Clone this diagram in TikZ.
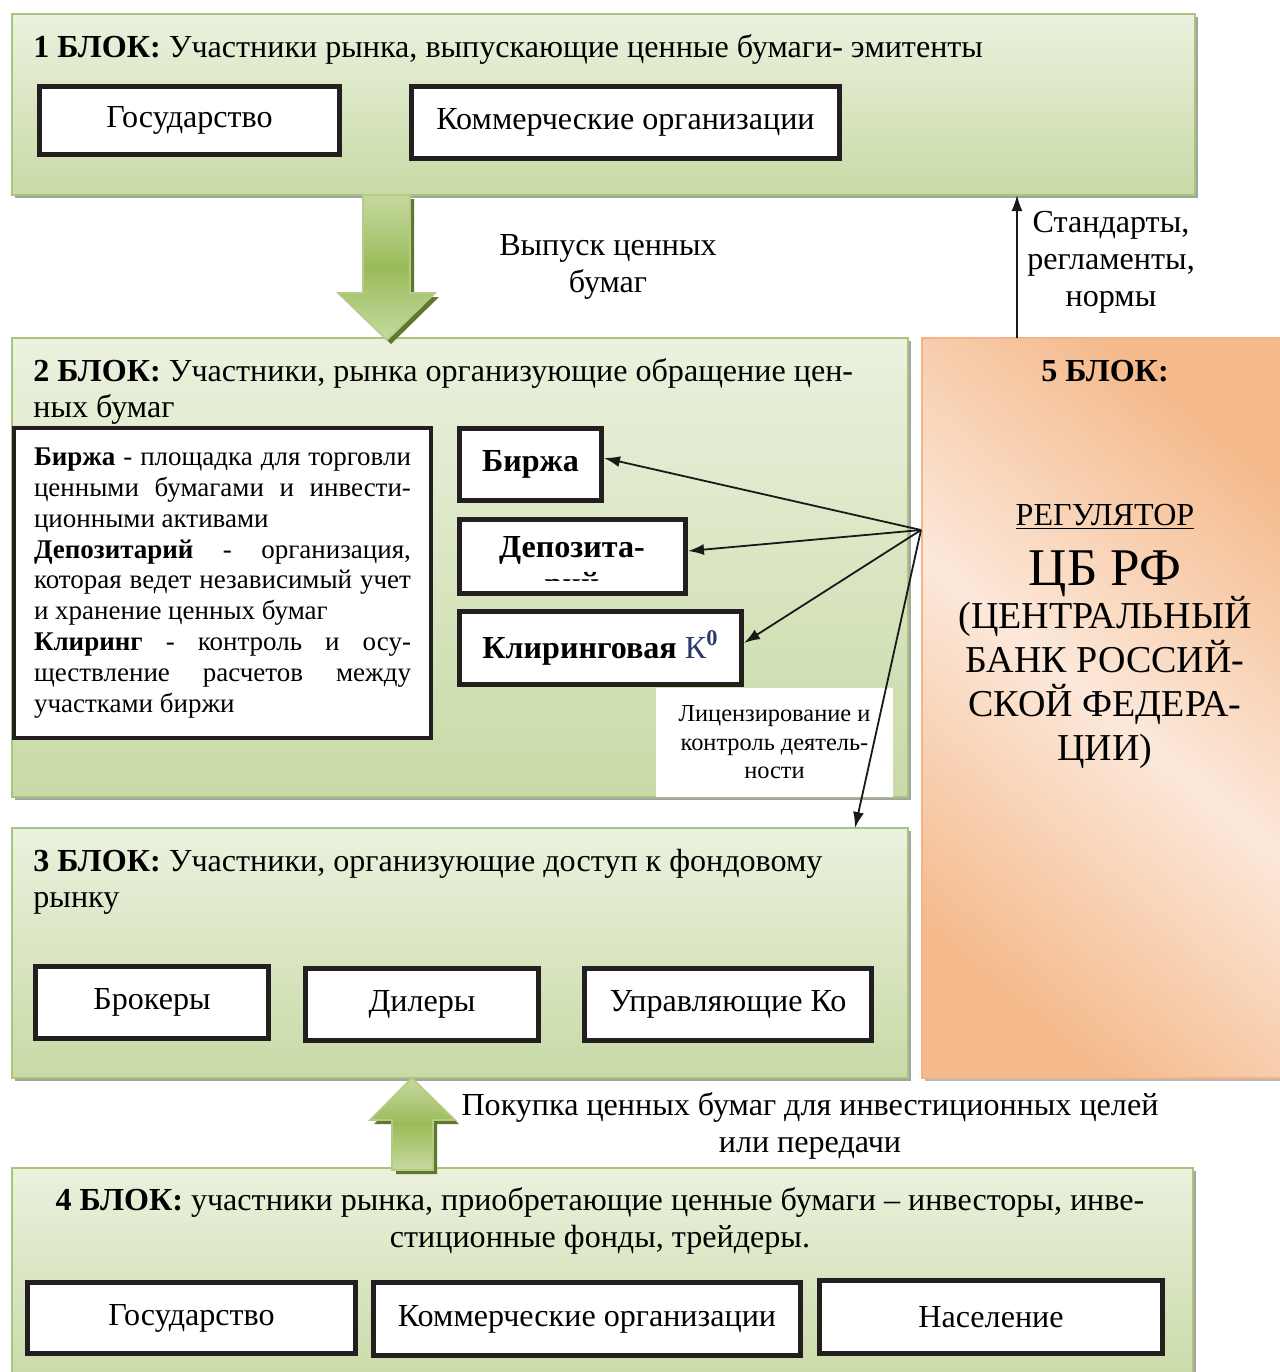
\documentclass[tikz,border=0pt]{standalone}
\usepackage{fontspec}
\setmainfont{Liberation Serif}
\usetikzlibrary{arrows.meta,shadows,calc}

\definecolor{gtop}{HTML}{EBF1DE}
\definecolor{gbot}{HTML}{C8DAA6}
\definecolor{gline}{HTML}{A9C47F}
\definecolor{otop}{HTML}{F4BA8C}
\definecolor{omid}{HTML}{FCE8DA}
\definecolor{oline}{HTML}{F2B48A}
\definecolor{arrA}{HTML}{C6D9A0}
\definecolor{arrB}{HTML}{9BBB59}
\definecolor{arrL}{HTML}{B3CC86}
\definecolor{arrS}{HTML}{60772F}
\definecolor{kcol}{HTML}{2B3A67}
\definecolor{boxline}{HTML}{231F20}

\newcommand\myMainF{\fontsize{16.05}{18.5}\selectfont}
\newcommand\mySmallF{\fontsize{13.5}{15.4}\selectfont}
\newcommand\myLicF{\fontsize{12.2}{14.3}\selectfont}
\newcommand\jline[1]{\hbox to \hsize{#1}}
\newcommand\lline[1]{\hbox to \hsize{#1\hfil}}

\tikzset{
  gblock/.style={draw=gline, line width=0.8pt, top color=gtop, bottom color=gbot,
    inner sep=0pt, outer sep=0pt, anchor=north west,
    drop shadow={shadow xshift=1.6pt, shadow yshift=-1.6pt, fill=black!45, opacity=0.8}},
  oblock/.style={draw=oline, line width=0.8pt, top color=otop, bottom color=otop, middle color=omid,
    shading angle=-40, inner sep=0pt, outer sep=0pt, anchor=north west,
    drop shadow={shadow xshift=1.6pt, shadow yshift=-1.6pt, fill=black!35, opacity=0.8}},
  wbox/.style={draw=boxline, line width=2.5pt, fill=white, inner sep=0pt, font=\myMainF},
  ttl/.style={inner sep=0pt, font=\myMainF},
  thinarrow/.style={draw=black!90, line width=0.9pt, -{Latex[length=8pt,width=5.5pt]}},
  bigarrow/.style={draw=arrL, line width=0.8pt, top color=arrA, bottom color=arrA, middle color=arrB},
  arrshadow/.style={fill=arrS},
}

\begin{document}
\begin{tikzpicture}[x=0.5pt,y=-0.5pt]
\useasboundingbox (0,0) rectangle (1280,1372);
\fill[white] (0,0) rectangle (1280,1372);

% blocks
\node[gblock, minimum width=591.5pt, minimum height=90.5pt] (b1) at (12,14) {};
\node[gblock, minimum width=448pt, minimum height=229.5pt] (b2) at (12,338) {};
\node[gblock, minimum width=448pt, minimum height=125pt] (b3) at (12,828) {};
\node[gblock, minimum width=590.5pt, minimum height=110pt] (b4) at (12,1168) {};
\node[oblock, minimum width=182pt, minimum height=370pt] (b5) at (922,338) {};

% block 1
\node[ttl, anchor=base west] (t1) at (33,57) {\textbf{1 БЛОК:} Участники рынка, выпускающие ценные бумаги- эмитенты};
\node[wbox, minimum width=150pt, minimum height=34pt] (gos1) at (189.5,120.5) {Государство};
\node[wbox, minimum width=214pt, minimum height=36pt] (kom1) at (625.5,122.5) {Коммерческие организации};

% big down arrow
\fill[arrshadow] (367,199) -- (414,199) -- (414,297) -- (439,297) -- (391,344) -- (342,297) -- (367,297) -- cycle;
\path[bigarrow] (363,195) -- (410,195) -- (410,293) -- (435,293) -- (387,340) -- (338,293) -- (363,293) -- cycle;
\node[ttl, align=center] (vyp) at (608,267) {Выпуск ценных\\бумаг};

% standards arrow
\coordinate (stdx) at (1017,0);
\draw[thinarrow] (b5.north -| stdx) -- (b1.south -| stdx);
\node[ttl, align=center] (std) at (1111,262) {Стандарты,\\регламенты,\\нормы};

% block 2
\node[ttl, anchor=base west] (t2a) at (33,381) {\textbf{2 БЛОК:} Участники, рынка организующие обращение цен-};
\node[ttl, anchor=base west] (t2b) at (33,417) {ных бумаг};
\node[wbox, line width=2pt, minimum width=208.5pt, minimum height=155pt, font=\mySmallF] (defs) at (222.5,583)
 {\vbox{\hsize=188.5pt
  \jline{\textbf{Биржа} - площадка для торговли}
  \jline{ценными бумагами и инвести-}
  \lline{ционными активами}
  \jline{\textbf{Депозитарий} - организация,}
  \jline{которая ведет независимый учет}
  \lline{и хранение ценных бумаг}
  \jline{\textbf{Клиринг} - контроль и осу-}
  \jline{ществление расчетов между}
  \lline{участками биржи}}};
\node[wbox, minimum width=71pt, minimum height=36pt, font=\myMainF\bfseries] (birzha) at (530.5,464.5) {Биржа};
\node[wbox, minimum width=113pt, minimum height=37pt] (depo) at (572.5,556.5) {};
\begin{scope}
  \clip (461,521) rectangle (684,580);
  \node[ttl, font=\myMainF\bfseries, align=center] (depot) at (572,569) {Депозита-\\рий};
\end{scope}
\node[wbox, minimum width=141pt, minimum height=36.5pt] (klir) at (600.5,648)
  {\textbf{Клиринговая} \textcolor{kcol}{К\textsuperscript{\textbf{0}}}};
\node[fill=white, inner sep=0pt, minimum width=118.5pt, minimum height=54.5pt, font=\myLicF, align=center] (lic) at (774.5,742.5)
  {Лицензирование и\\контроль деятель-\\ности};

% block 3
\node[ttl, anchor=base west] (t3a) at (33,871) {\textbf{3 БЛОК:} Участники, организующие доступ к фондовому};
\node[ttl, anchor=base west] (t3b) at (33,907) {рынку};
\node[wbox, minimum width=116.5pt, minimum height=36pt] (brok) at (152,1002.5) {Брокеры};
\node[wbox, minimum width=116.5pt, minimum height=36pt] (dil) at (422,1004.5) {Дилеры};
\node[wbox, minimum width=143.5pt, minimum height=36pt] (upr) at (728,1004.5) {Управляющие Ко};

% regulator arrows
\coordinate (src) at (921,530);
\coordinate (b3t) at (855,828);
\draw[thinarrow] (src) -- ([yshift=3.25pt]birzha.east);
\draw[thinarrow] (src) -- ([yshift=2.75pt]depo.east);
\draw[thinarrow] (src) -- ([yshift=2.5pt]klir.east);
\draw[thinarrow] (src) -- (b3t);

% big up arrow
\fill[arrshadow] (416,1082) -- (459,1124) -- (437,1124) -- (437,1174) -- (396,1174) -- (396,1124) -- (374,1124) -- cycle;
\path[bigarrow] (412,1078) -- (455,1120) -- (433,1120) -- (433,1170) -- (392,1170) -- (392,1120) -- (370,1120) -- cycle;
\node[ttl, align=center] (pok) at (810,1126) {Покупка ценных бумаг для инвестиционных целей\\или передачи};

% block 4
\node[ttl, anchor=base] (t4a) at (600,1210) {\textbf{4 БЛОК:} участники рынка, приобретающие ценные бумаги – инвесторы, инве-};
\node[ttl, anchor=base] (t4b) at (600,1247) {стиционные фонды, трейдеры.};
\node[wbox, minimum width=164pt, minimum height=35.5pt] (gos4) at (191.5,1318) {Государство};
\node[wbox, minimum width=213.5pt, minimum height=36.5pt] (kom4) at (587,1319) {Коммерческие организации};
\node[wbox, minimum width=171.5pt, minimum height=36.5pt] (nas) at (991,1317) {Население};

% block 5
\node[ttl, anchor=base, font=\myMainF\bfseries] (t5) at (1105,381) {5 БЛОК:};
\node[ttl, anchor=base] (reg) at (1105,525) {\underline{РЕГУЛЯТОР}};
\node[ttl, anchor=base, font=\fontsize{26.5}{29}\selectfont] (cb) at (1105,585) {ЦБ РФ};
\node[ttl, align=center, font=\fontsize{19}{22}\selectfont] (cbfull) at (1105,682)
  {(ЦЕНТРАЛЬНЫЙ\\БАНК РОССИЙ-\\СКОЙ ФЕДЕРА-\\ЦИИ)};
\end{tikzpicture}
\end{document}
